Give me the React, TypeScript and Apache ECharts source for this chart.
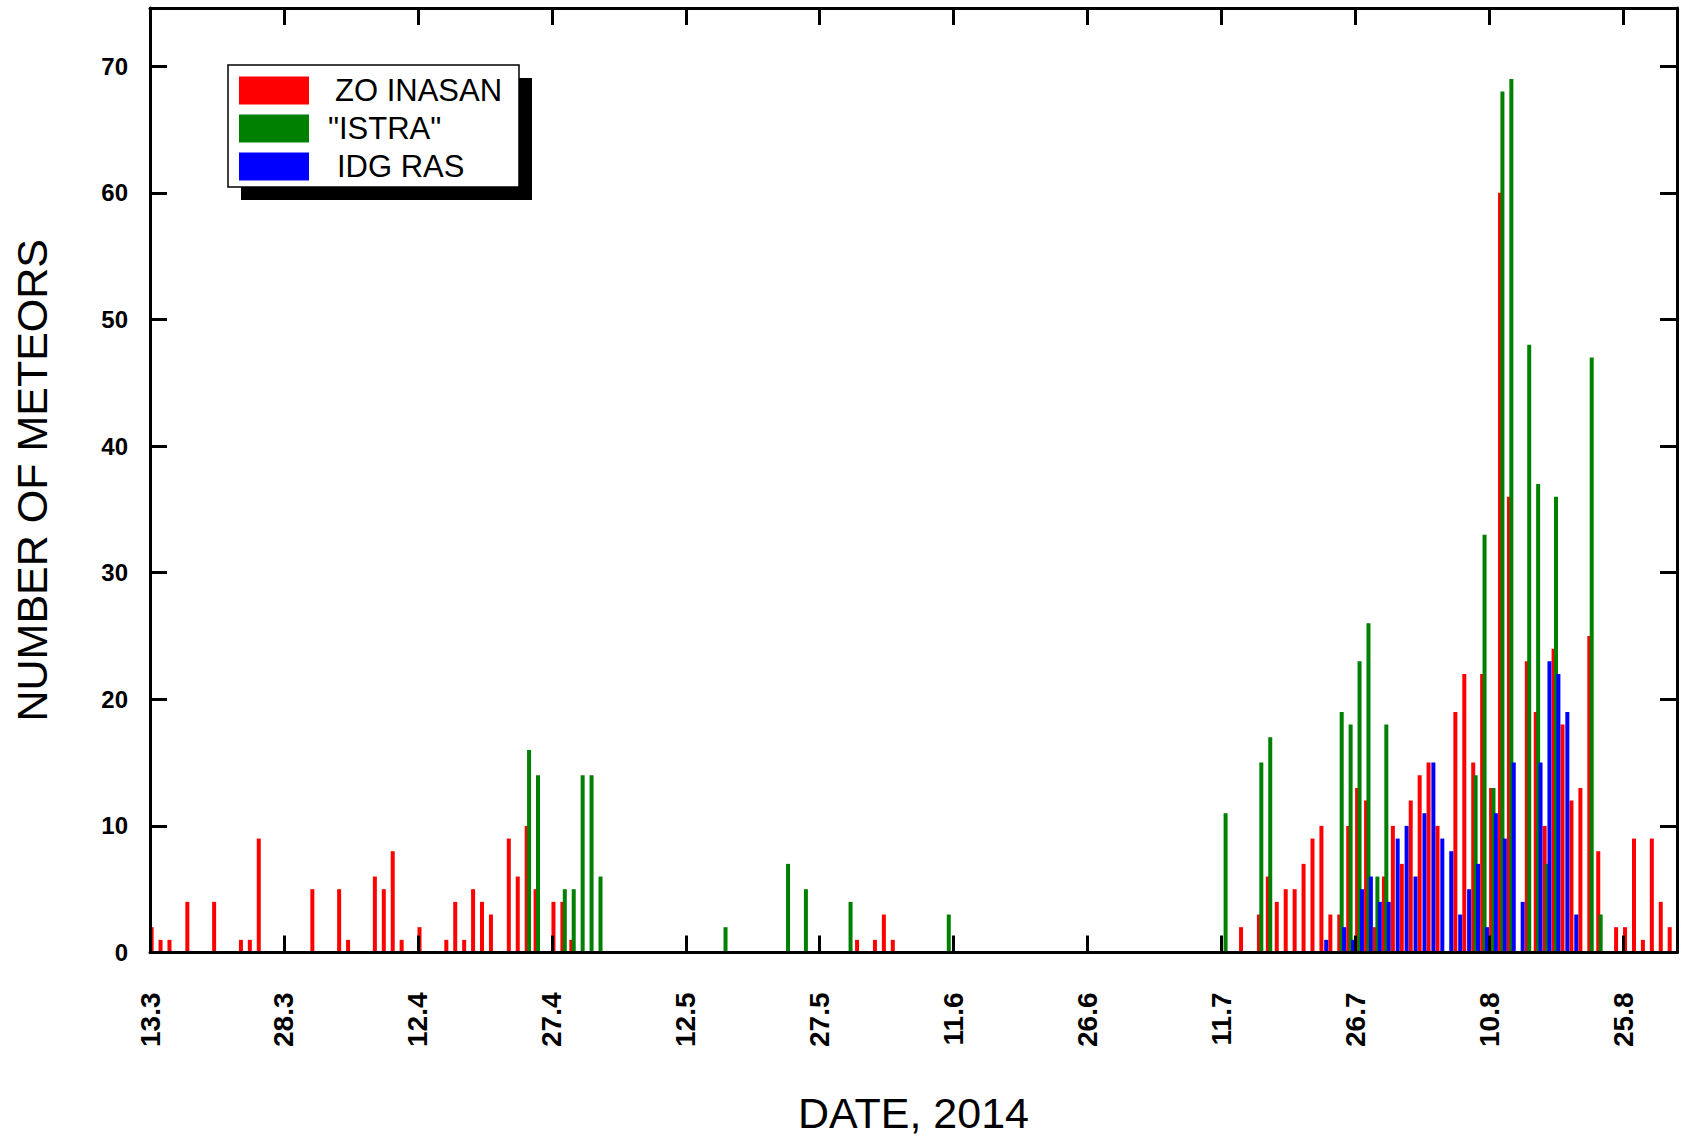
import React, { useEffect, useRef } from 'react';
import * as echarts from 'echarts';

// Dates on the horizontal axis are counted in days from 13 March 2014.
const tickLabels = ['13.3', '28.3', '12.4', '27.4', '12.5', '27.5', '11.6', '26.6', '11.7', '26.7', '10.8', '25.8'];
const seriesNames = ['ZO INASAN', '"ISTRA"', 'IDG RAS'];
const seriesColors = ['#ff0000', '#008000', '#0000ff'];

const zoDays = [0, 1, 2, 4, 7, 10, 11, 12, 18, 21, 22, 25, 26, 27, 28, 30, 33, 34, 35, 36, 37, 38, 40, 41, 42, 43, 45, 46, 47, 79, 81, 82, 83, 122, 124, 125, 126, 127, 128, 129, 130, 131, 132, 133, 134, 135, 136, 137, 138, 139, 140, 141, 142, 143, 144, 146, 147, 148, 149, 150, 151, 152, 154, 155, 156, 157, 158, 159, 160, 161, 162, 164, 165, 166, 167, 168, 169, 170];
const zoCounts = [2, 1, 1, 4, 4, 1, 1, 9, 5, 5, 1, 6, 5, 8, 1, 2, 1, 4, 1, 5, 4, 3, 9, 6, 10, 5, 4, 4, 1, 1, 1, 3, 1, 2, 3, 6, 4, 5, 5, 7, 9, 10, 3, 3, 10, 13, 12, 2, 6, 10, 7, 12, 14, 15, 10, 19, 22, 15, 22, 13, 60, 36, 23, 19, 10, 24, 18, 12, 13, 25, 8, 2, 2, 9, 1, 9, 4, 2];

const istraDays = [42, 43, 46, 47, 48, 49, 50, 64, 71, 73, 78, 89, 120, 124, 125, 133, 134, 135, 136, 137, 138, 148, 149, 150, 151, 152, 154, 155, 156, 157, 161, 162];
const istraCounts = [16, 14, 5, 5, 14, 14, 6, 2, 7, 5, 4, 3, 11, 15, 17, 19, 18, 23, 26, 6, 18, 14, 33, 13, 68, 69, 48, 37, 7, 36, 47, 3];

const idgDays = [131, 133, 134, 135, 136, 137, 138, 139, 140, 141, 142, 143, 144, 145, 146, 147, 148, 149, 150, 151, 152, 153, 155, 156, 157, 158, 159];
const idgCounts = [1, 2, 1, 5, 6, 4, 4, 9, 10, 6, 11, 15, 9, 8, 3, 5, 7, 2, 11, 9, 15, 4, 15, 23, 22, 19, 3];

const X_MAX = 171;
const Y_MAX = 74.6;
const DAY_CENTER = 0.45;

export default function App() {
  const ref = useRef<HTMLDivElement>(null);

  useEffect(() => {
    document.body.style.margin = '0';
    document.body.style.overflow = 'hidden';
    const chart = echarts.init(ref.current as HTMLDivElement, null, { renderer: 'svg' });
    const font = '"Liberation Sans", Arial, sans-serif';
    const black = '#000';

    const xLabel = (v: number) => {
      const i = v / 15;
      return Number.isInteger(i) && tickLabels[i] ? tickLabels[i] : '';
    };
    const yLabel = (v: number) => (v % 10 === 0 ? String(v) : '');

    const legendIndent = [21, 14, 23];

    const mkBars = (i: number, days: number[], counts: number[]) => ({
      type: 'bar',
      name: seriesNames[i],
      barWidth: 4,
      barGap: '-40%',
      xAxisIndex: 0,
      yAxisIndex: 0,
      itemStyle: { color: seriesColors[i] },
      data: days.map((d, k) => [d + DAY_CENTER, counts[k]]),
      z: 2,
    });

    const axisLine = { show: true, onZero: false, lineStyle: { color: black, width: 3 } };
    const axisTick = { show: true, inside: true, length: 17, lineStyle: { color: black, width: 3 } };

    chart.setOption({
      animation: false,
      backgroundColor: '#fff',
      grid: { left: 150, right: 11, top: 8, bottom: 185.5, containLabel: false, outerBoundsMode: 'none' },
      legend: {
        orient: 'vertical',
        left: 239,
        top: 75,
        padding: 0,
        itemGap: 7,
        itemWidth: 70,
        itemHeight: 28,
        icon: 'rect',
        selectedMode: false,
        z: 10,
        data: seriesNames.map((n, i) => ({
          name: n,
          textStyle: { padding: [0, 0, 5, legendIndent[i]], lineHeight: 23 },
        })),
        textStyle: { fontFamily: font, fontSize: 31, lineHeight: 23, color: black },
      },
      graphic: {
        elements: [
          { type: 'rect', z: 0, shape: { x: 241, y: 78, width: 291, height: 122 }, style: { fill: black } },
          { type: 'rect', z: 1, shape: { x: 228, y: 65, width: 291, height: 122 }, style: { fill: '#fff', stroke: black, lineWidth: 1.5 } },
        ],
      },
      xAxis: [
        {
          type: 'value',
          position: 'bottom',
          min: 0,
          max: X_MAX,
          interval: 15,
          z: 5,
          axisLine,
          axisTick,
          splitLine: { show: false },
          axisLabel: {
            rotate: 90,
            margin: 40,
            fontSize: 28,
            fontWeight: 'bold',
            fontFamily: font,
            color: black,
            formatter: xLabel,
          },
          name: 'DATE, 2014',
          nameLocation: 'middle',
          nameGap: 139,
          nameTextStyle: { fontSize: 43, fontFamily: font, color: black },
        },
        {
          type: 'value',
          position: 'top',
          min: 0,
          max: X_MAX,
          interval: 15,
          z: 5,
          axisLine,
          axisTick,
          splitLine: { show: false },
          axisLabel: { show: false },
        },
      ],
      yAxis: [
        {
          type: 'value',
          position: 'left',
          min: 0,
          max: Y_MAX,
          interval: 10,
          z: 5,
          axisLine,
          axisTick,
          splitLine: { show: false },
          axisLabel: {
            margin: 22,
            fontSize: 24,
            fontWeight: 'bold',
            fontFamily: font,
            color: black,
            formatter: yLabel,
          },
          name: 'NUMBER OF METEORS',
          nameLocation: 'middle',
          nameGap: 97,
          nameTextStyle: { fontSize: 43, fontFamily: font, color: black },
        },
        {
          type: 'value',
          position: 'right',
          min: 0,
          max: Y_MAX,
          interval: 10,
          z: 5,
          axisLine,
          axisTick,
          splitLine: { show: false },
          axisLabel: { show: false },
        },
      ],
      series: [
        mkBars(0, zoDays, zoCounts),
        mkBars(1, istraDays, istraCounts),
        mkBars(2, idgDays, idgCounts),
      ],
    });

    return () => chart.dispose();
  }, []);

  return <div ref={ref} style={{ width: 1688, height: 1138 }} />;
}
